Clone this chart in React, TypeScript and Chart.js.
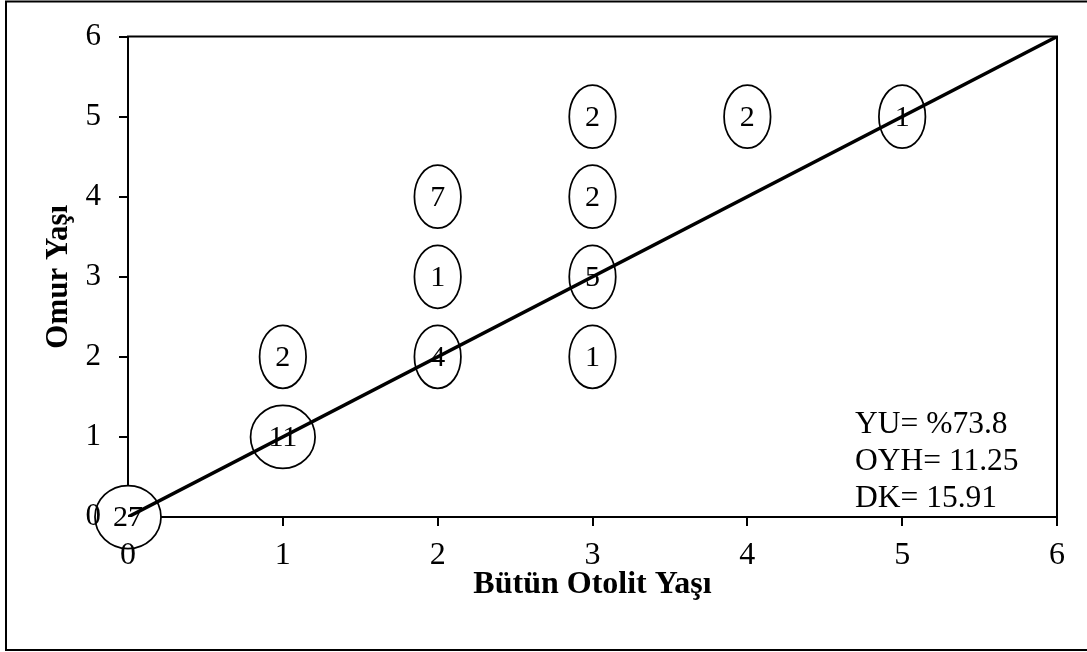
import React, { useEffect, useRef } from 'react';
import { Chart, registerables } from 'chart.js';

Chart.register(...registerables);

// ---- data ----
const pointXs = [0, 1, 1, 2, 2, 2, 3, 3, 3, 3, 4, 5];
const pointYs = [0, 1, 2, 2, 3, 4, 2, 3, 4, 5, 5, 5];
const counts = [27, 11, 2, 4, 1, 7, 1, 5, 2, 2, 2, 1];
const lineXs = [0, 6];
const lineYs = [0, 6];
const tickValues = [0, 1, 2, 3, 4, 5, 6];
const xTitle = 'Bütün Otolit Yaşı';
const yTitle = 'Omur Yaşı';
const statsLines = ['YU= %73.8', 'OYH= 11.25', 'DK= 15.91'];

const FAMILY = '"Liberation Serif", "Times New Roman", Times, serif';

const overlay = {
  id: 'overlay',
  beforeDraw(chart: any) {
    const ctx = chart.ctx;
    ctx.save();
    ctx.fillStyle = '#fff';
    ctx.fillRect(0, 0, chart.width, chart.height);
    ctx.strokeStyle = '#000';
    ctx.lineWidth = 2;
    ctx.strokeRect(6, 1.5, 1200, 648.5);
    ctx.restore();
  },
  beforeDatasetsDraw(chart: any) {
    const ctx = chart.ctx;
    const { left, right, top, bottom } = chart.chartArea;
    ctx.save();
    ctx.strokeStyle = '#000';
    ctx.lineWidth = 2;
    ctx.beginPath();
    ctx.moveTo(left - 1, top);
    ctx.lineTo(right, top);
    ctx.lineTo(right, bottom + 1);
    ctx.stroke();

    const meta = chart.getDatasetMeta(1);
    ctx.font = `30px ${FAMILY}`;
    meta.data.forEach((el: any, i: number) => {
      const label = String(counts[i]);
      const tw = ctx.measureText(label).width;
      const rx = tw * 0.65 + 13.5;
      const ry = 31.5;
      ctx.beginPath();
      ctx.ellipse(el.x, el.y, rx, ry, 0, 0, Math.PI * 2);
      ctx.fillStyle = '#fff';
      ctx.fill();
      ctx.lineWidth = 1.75;
      ctx.strokeStyle = '#000';
      ctx.stroke();
      ctx.fillStyle = '#000';
      ctx.textAlign = 'center';
      ctx.textBaseline = 'middle';
      ctx.fillText(label, el.x, el.y + 1);
    });
    ctx.restore();
  },
  afterDraw(chart: any) {
    const ctx = chart.ctx;
    const { right, bottom } = chart.chartArea;
    ctx.save();
    ctx.font = `31.5px ${FAMILY}`;
    ctx.fillStyle = '#000';
    ctx.textAlign = 'left';
    ctx.textBaseline = 'alphabetic';
    statsLines.forEach((t, i) => {
      ctx.fillText(t, right - 202, bottom - 84 + i * 37);
    });
    ctx.restore();
  },
};

export default function App() {
  const ref = useRef<HTMLCanvasElement>(null);
  useEffect(() => {
    if (!ref.current) return;
    const axisCommon = (
      title: string,
      titleSize: number,
      titlePadding: any,
      labelSize: number,
      labelPadding: number
    ) => ({
      type: 'linear' as const,
      min: 0,
      max: 6,
      afterBuildTicks: (s: any) => {
        s.ticks = tickValues.map((v) => ({ value: v }));
      },
      ticks: {
        stepSize: 1,
        color: '#000',
        font: { family: FAMILY, size: labelSize },
        padding: labelPadding,
        maxRotation: 0,
        z: 1,
      },
      grid: {
        drawOnChartArea: false,
        drawTicks: true,
        tickLength: 9,
        lineWidth: 2,
        color: '#000',
      },
      border: { display: true, width: 2, color: '#000' },
      title: {
        display: true,
        text: title,
        color: '#000',
        font: { family: FAMILY, size: titleSize, weight: 'bold' as const },
        padding: titlePadding,
      },
    });
    const chart = new Chart(ref.current, {
      type: 'scatter',
      data: {
        datasets: [
          {
            data: lineXs.map((x, i) => ({ x, y: lineYs[i] })),
            showLine: true,
            borderColor: '#000',
            borderWidth: 3.5,
            pointRadius: 0,
            fill: false,
          },
          {
            data: pointXs.map((x, i) => ({ x, y: pointYs[i] })),
            showLine: false,
            pointRadius: 0,
            pointHoverRadius: 0,
          },
        ],
      },
      options: {
        responsive: false,
        animation: false,
        layout: { padding: { left: 0, top: 33, right: 30, bottom: 35 } },
        plugins: { legend: { display: false }, tooltip: { enabled: false } },
        scales: {
          x: {
            ...axisCommon(xTitle, 32, { top: 0, bottom: 13 }, 32, 10),
            afterFit: (s: any) => {
              s.height = 100;
            },
          },
          y: {
            ...axisCommon(yTitle, 31, { top: 40, bottom: 0 }, 31, 18),
            afterFit: (s: any) => {
              s.width = 128;
            },
          },
        },
      },
      plugins: [overlay],
    });
    return () => chart.destroy();
  }, []);
  return (
    <div style={{ position: 'fixed', left: 0, top: 0, width: 1087, height: 652, background: '#fff' }}>
      <canvas ref={ref} width={1087} height={652} style={{ display: 'block' }} />
    </div>
  );
}
